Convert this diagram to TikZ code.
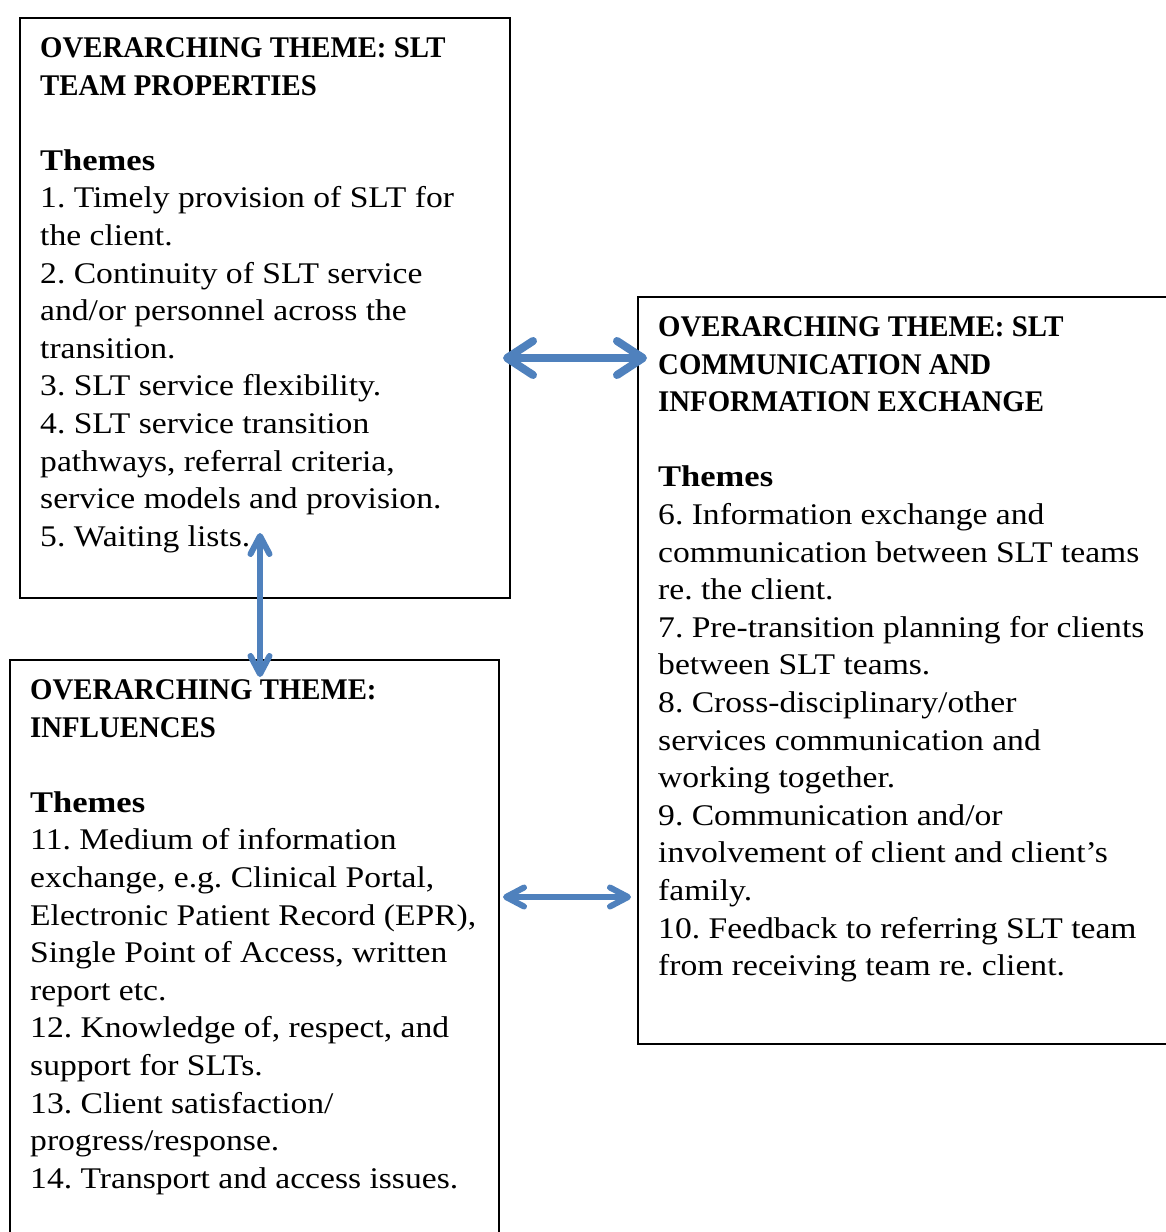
\documentclass[tikz,border=0pt]{standalone}
\usepackage{fontspec}
\setmainfont{Liberation Serif}[UprightFeatures={FakeStretch=1.12}, BoldFeatures={FakeStretch=0.96}]
\newfontfamily\themesfont{Liberation Serif}[FakeStretch=1.15]
\usetikzlibrary{arrows.meta}
\definecolor{arrowblue}{RGB}{79,129,189}
\newcommand{\themeshead}{{\themesfont\bfseries Themes}}
\begin{document}
\frenchspacing
\begin{tikzpicture}[x=1pt,y=-1pt,
  box/.style={draw=black, line width=2pt, anchor=north west, inner sep=0pt},
  txt/.style={anchor=north west, inner sep=0pt, align=left, font=\fontsize{30}{37.6}\selectfont\frenchspacing},
  bigarrow/.style={arrowblue, line width=8pt, {Straight Barb[round,length=26pt,width=34pt]}-{Straight Barb[round,length=26pt,width=34pt]}},
  smallarrow/.style={arrowblue, line width=6pt, {Straight Barb[round,length=18pt,width=19pt]}-{Straight Barb[round,length=18pt,width=19pt]}}
]
\useasboundingbox (0,0) rectangle (1166,1232);
\fill[white] (0,0) rectangle (1166,1232);

\node[box, minimum width=490pt, minimum height=580pt] (b1) at (19,17) {};
\node[box, minimum width=540pt, minimum height=747pt] (b2) at (637,296) {};
\node[box, minimum width=489pt, minimum height=590pt] (b3) at (9,659) {};

\node[txt] (t1) at (40,37.5) {\textbf{OVERARCHING THEME: SLT}\\
\textbf{TEAM PROPERTIES}\\
\mbox{}\\
\themeshead\\
1. Timely provision of SLT for\\
the client.\\
2. Continuity of SLT service\\
and/or personnel across the\\
transition.\\
3. SLT service flexibility.\\
4. SLT service transition\\
pathways, referral criteria,\\
service models and provision.\\
5. Waiting lists.};

\node[txt] (t2) at (658,316.5) {\textbf{OVERARCHING THEME: SLT}\\
\textbf{COMMUNICATION AND}\\
\textbf{INFORMATION EXCHANGE}\\
\mbox{}\\
\themeshead\\
6. Information exchange and\\
communication between SLT teams\\
re. the client.\\
7. Pre-transition planning for clients\\
between SLT teams.\\
8. Cross-disciplinary/other\\
services communication and\\
working together.\\
9. Communication and/or\\
involvement of client and client’s\\
family.\\
10. Feedback to referring SLT team\\
from receiving team re. client.};

\node[txt] (t3) at (30,679.5) {\textbf{OVERARCHING THEME:}\\
\textbf{INFLUENCES}\\
\mbox{}\\
\themeshead\\
11. Medium of information\\
exchange, e.g. Clinical Portal,\\
Electronic Patient Record (EPR),\\
Single Point of Access, written\\
report etc.\\
12. Knowledge of, respect, and\\
support for SLTs.\\
13. Client satisfaction/\\
progress/response.\\
14. Transport and access issues.};

\coordinate (a1l) at (503,358);
\coordinate (a1r) at (647,358);
\coordinate (a2t) at (260,533);
\coordinate (a2b) at (260,677);
\coordinate (a3l) at (503,897);
\coordinate (a3r) at (631,897);

\draw[bigarrow] (a1l) -- (a1r);
\draw[smallarrow] (a2t) -- (a2b);
\draw[smallarrow] (a3l) -- (a3r);
\end{tikzpicture}
\end{document}
